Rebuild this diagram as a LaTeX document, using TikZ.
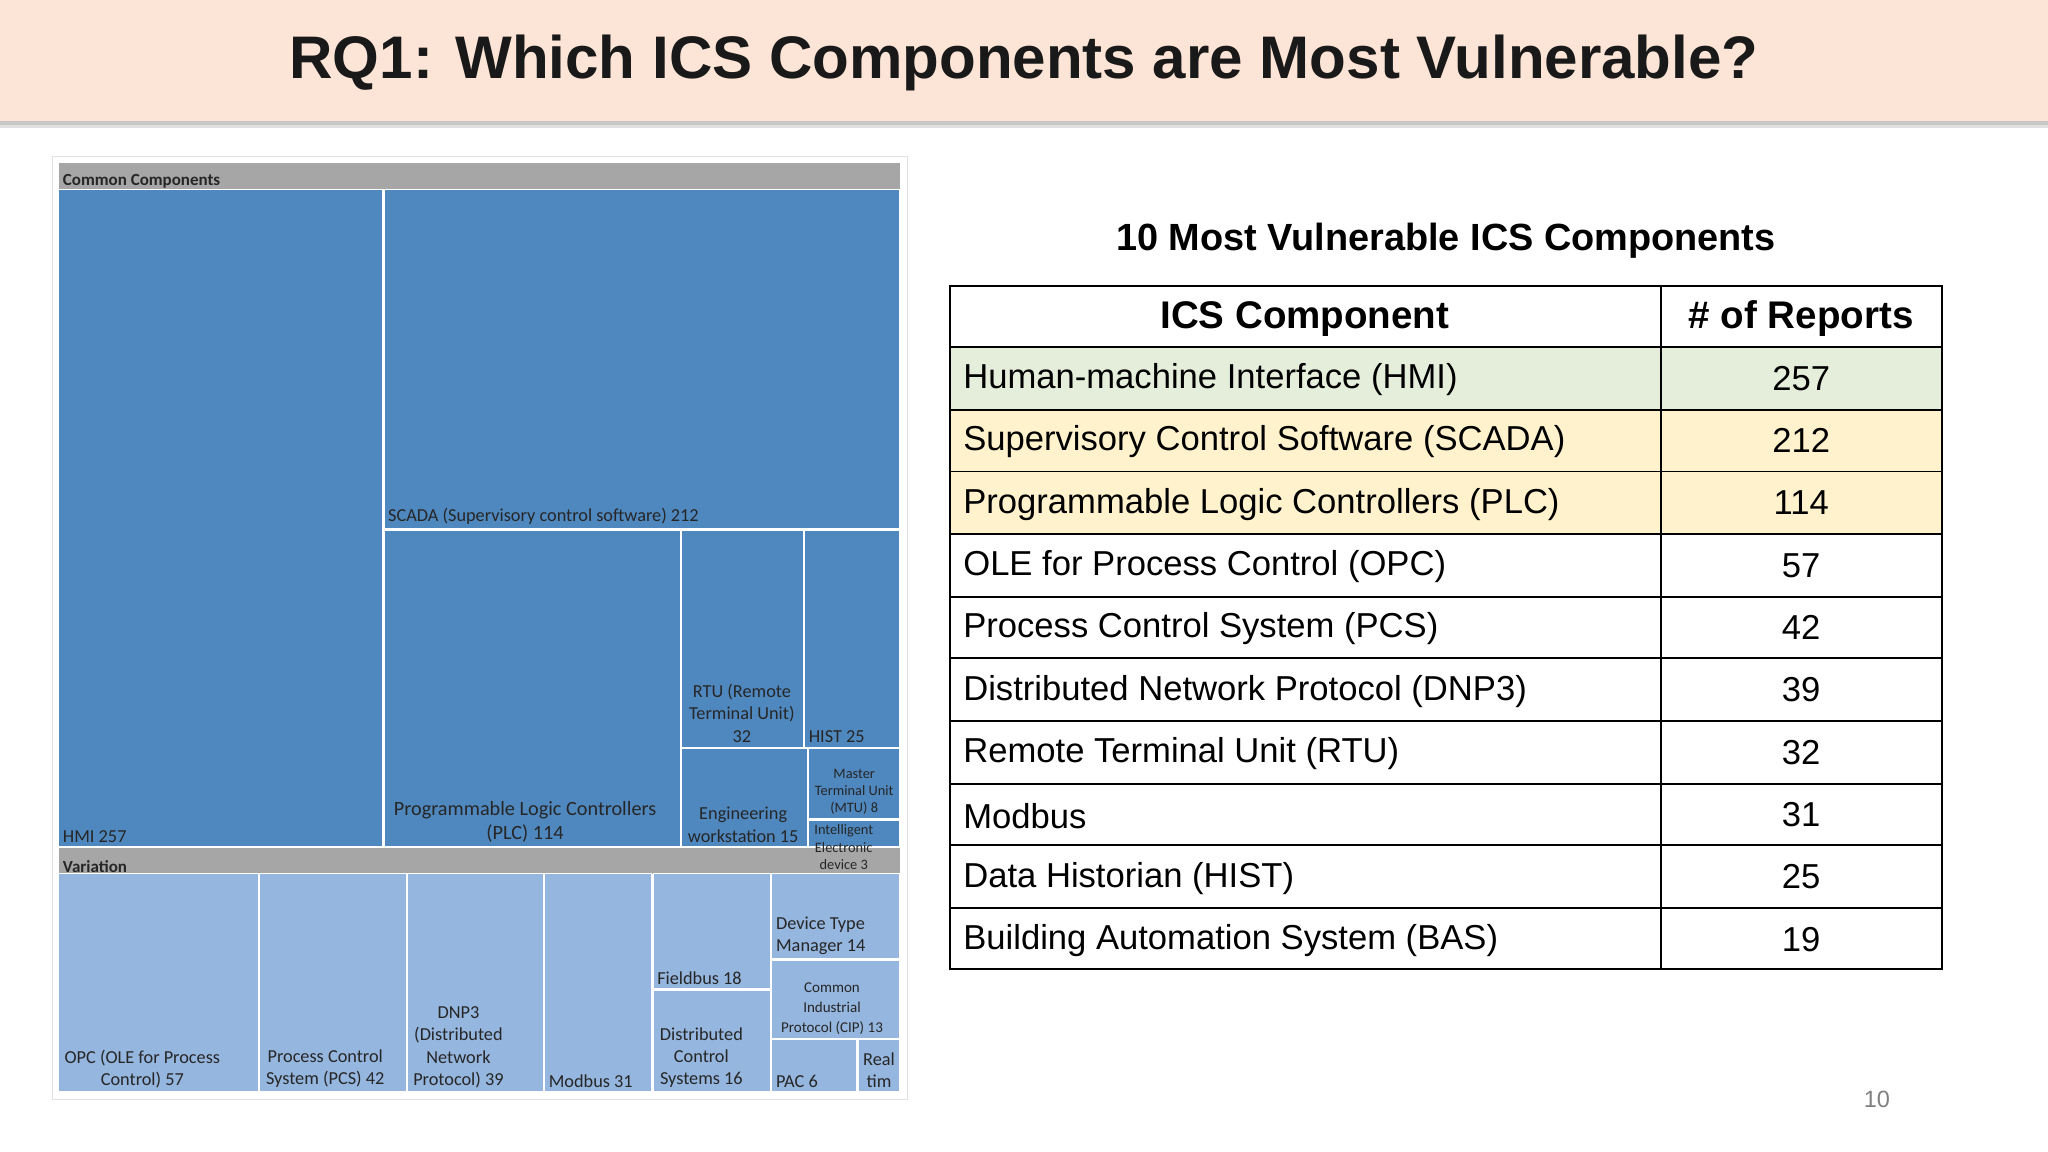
\documentclass[tikz,border=0pt]{standalone}
\usepackage{fontspec}
\setmainfont{Liberation Sans}
\newfontfamily\calfam{Carlito}
\begin{document}
\begin{tikzpicture}[x=1pt,y=-1pt,
 tb/.style={fill=blueA,draw=white,line width=0.8pt},
 lb/.style={fill=blueB,draw=white,line width=0.8pt},
 tl/.style={font=\calfam\fontsize{14}{17}\selectfont,text=black!85,align=center,inner sep=3pt},
 cell/.style={draw=black,line width=1.5pt},
 rt/.style={font=\fontsize{26.5}{30}\selectfont,anchor=west},
 rn/.style={font=\fontsize{26.5}{30}\selectfont}]
\definecolor{blueA}{HTML}{4F88BF}
\definecolor{blueB}{HTML}{95B6DE}
\definecolor{grayb}{HTML}{A6A6A6}
\definecolor{peach}{HTML}{FCE4D6}
\definecolor{greenr}{HTML}{E5EEDB}
\definecolor{yellr}{HTML}{FFF2CC}
\useasboundingbox (0,0) rectangle (1568,882);
\fill[white] (0,0) rectangle (1568,882);
% header
\fill[black!12] (0,4) rectangle (1568,98);
\fill[black!22] (0,4) rectangle (1568,96);
\fill[peach] (0,0) rectangle (1568,93);
\node[font=\bfseries\fontsize{46}{50}\selectfont,text=black!90] (title) at (784,48) {RQ1: Which ICS Components are Most Vulnerable?};
% treemap
\draw[black!12,line width=1pt] (40,120) rectangle (695,842);
\fill[grayb] (45,125) rectangle (689,145);
\node[tl,anchor=south west,font=\calfam\bfseries\fontsize{13}{15}\selectfont] (cc) at (45,147) {Common Components};
\draw[tb] (45,145) rectangle (293,648);
\node[tl,anchor=south west] (hmi) at (45,648) {HMI 257};
\draw[tb] (294,145) rectangle (689,405);
\node[tl,anchor=south west] (scada) at (294,405) {SCADA (Supervisory control software) 212};
\draw[tb] (294,406) rectangle (521,648);
\node[tl,anchor=south,font=\calfam\fontsize{15.5}{18}\selectfont] (plc) at (402,648) {Programmable Logic Controllers\\(PLC) 114};
\draw[tb] (522,406) rectangle (615,572);
\node[tl,anchor=south,font=\calfam\fontsize{14}{17.5}\selectfont] (rtu) at (568,572) {RTU (Remote\\Terminal Unit)\\32};
\draw[tb] (616,406) rectangle (689,572);
\node[tl,anchor=south west] (hist) at (616,572) {HIST 25};
\draw[tb] (522,573) rectangle (618,648);
\node[tl,anchor=south] (eng) at (569,648) {Engineering\\workstation 15};
\draw[tb] (619,573) rectangle (689,627);
\node[tl,anchor=south,font=\calfam\fontsize{11}{13}\selectfont] (mtu) at (654,627) {Master\\Terminal Unit\\(MTU) 8};
\draw[tb] (619,628) rectangle (689,648);
\fill[grayb] (45,649) rectangle (689,669);
\node[tl,anchor=south west,font=\calfam\bfseries\fontsize{13}{15}\selectfont] (var) at (45,671) {Variation};
\node[tl,anchor=north,font=\calfam\fontsize{11}{13.5}\selectfont,inner sep=1pt] (ied) at (646,630) {Intelligent\\Electronic\\device 3};
\draw[lb] (45,669) rectangle (198,836);
\node[tl,anchor=south] (opc) at (109,836) {OPC (OLE for Process\\Control) 57};
\draw[lb] (199,669) rectangle (311,836);
\node[tl,anchor=south] (pcs) at (249,836) {Process Control\\System (PCS) 42};
\draw[lb] (312,669) rectangle (416,836);
\node[tl,anchor=south] (dnp) at (351,836) {DNP3\\(Distributed\\Network\\Protocol) 39};
\draw[lb] (417,669) rectangle (499,836);
\node[tl,anchor=south west] (mod) at (417,836) {Modbus 31};
\draw[lb] (500,669) rectangle (590,757);
\node[tl,anchor=south west] (fb) at (500,757) {Fieldbus 18};
\draw[lb] (500,758) rectangle (590,836);
\node[tl,anchor=south] (dcs) at (537,836) {Distributed\\Control\\Systems 16};
\draw[lb] (591,669) rectangle (689,734);
\node[tl,anchor=south west,align=left] (dtm) at (591,734) {Device Type\\Manager 14};
\draw[lb] (591,735) rectangle (689,795);
\node[tl,anchor=south,font=\calfam\fontsize{11.5}{15}\selectfont] (cip) at (637,795) {Common\\Industrial\\Protocol (CIP) 13};
\draw[lb] (591,796) rectangle (656,836);
\node[tl,anchor=south west] (pac) at (591,836) {PAC 6};
\draw[lb] (657,796) rectangle (689,836);
\node[tl,anchor=south] (rl) at (673,836) {Real\\tim};
% table
\node[font=\bfseries\fontsize{29}{32}\selectfont] (tt) at (1107,184) {10 Most Vulnerable ICS Components};
\fill[greenr] (727,266) rectangle (1487,314);
\fill[yellr] (727,314) rectangle (1487,409);
\draw[cell] (727,219) rectangle (1487,742);
\draw[cell] (1272,219) -- (1272,742);
\foreach \y in {266,314,361,409,457,504,552,600,647,695} \draw[cell] (727,\y) -- (1487,\y);
\node[font=\bfseries\fontsize{29.5}{32}\selectfont] (h1) at (999,244) {ICS Component};
\node[font=\bfseries\fontsize{29.5}{32}\selectfont] (h2) at (1379,244) {\# of Reports};
\foreach \t/\n [count=\i] in {Human-machine Interface (HMI)/257,Supervisory Control Software (SCADA)/212,Programmable Logic Controllers (PLC)/114,OLE for Process Control (OPC)/57,Process Control System (PCS)/42,Distributed Network Protocol (DNP3)/39,Remote Terminal Unit (RTU)/32,Modbus/31,Data Historian (HIST)/25,Building Automation System (BAS)/19}{
 \node[rt] (r\i) at (734,{243+47.7*\i}) {\t};
 \node[rn] (n\i) at (1379,{242+47.7*\i}) {\n};
}
\node[text=black!50,font=\fontsize{18}{20}\selectfont] (pg) at (1437,842) {10};
\end{tikzpicture}
\end{document}
